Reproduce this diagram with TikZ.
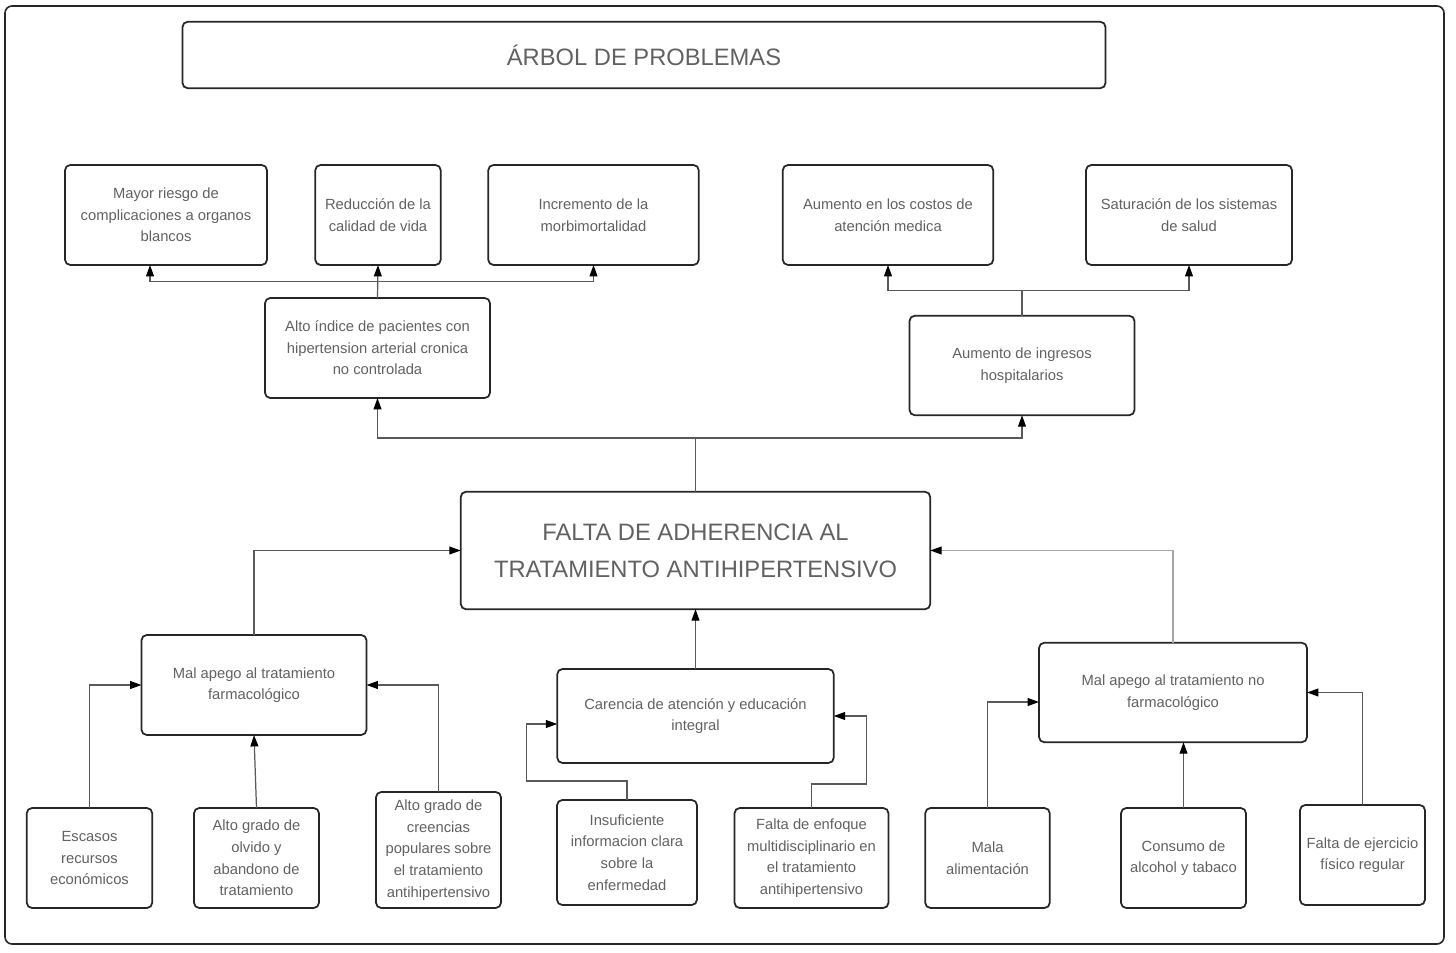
\documentclass[tikz,border=0pt]{standalone}
\usepackage{fontspec}
\setmainfont{Liberation Sans}
\usetikzlibrary{arrows.meta}

\begin{document}
\begin{tikzpicture}[
  box/.style={draw=black!85, line width=1pt, rounded corners=3pt, text=black!62, align=center, inner sep=0pt, outer sep=0pt, minimum height=2cm, font=\fontsize{8.4}{12.3}\selectfont},
  conn/.style={draw=black!65, line width=0.7pt},
  arr/.style={conn, -{Triangle[length=6.5pt,width=4.5pt,color=black]}}
]
\useasboundingbox (0cm, 0cm) rectangle (29.12cm, 19.04cm);
\draw[black!85, line width=0.9pt, rounded corners=4pt] (0.1cm, 0.16cm) rectangle (28.88cm, 18.92cm);

\node[box, minimum width=18.46cm, minimum height=1.33cm, font=\fontsize{13.5}{21}\selectfont] (title) at (12.88cm, 17.94cm) {ÁRBOL DE PROBLEMAS};

\node[box, minimum width=4.04cm] (e1) at (3.32cm, 14.74cm) {Mayor riesgo de\\complicaciones a organos\\blancos};
\node[box, minimum width=2.51cm] (e2) at (7.56cm, 14.74cm) {Reducción de la\\calidad de vida};
\node[box, minimum width=4.21cm] (e3) at (11.87cm, 14.74cm) {Incremento de la\\morbimortalidad};
\node[box, minimum width=4.21cm] (e4) at (17.76cm, 14.74cm) {Aumento en los costos de\\atención medica};
\node[box, minimum width=4.12cm] (e5) at (23.78cm, 14.74cm) {Saturación de los sistemas\\de salud};

\node[box, minimum width=4.5cm] (alto) at (7.55cm, 12.08cm) {Alto índice de pacientes con\\hipertension arterial cronica\\no controlada};
\node[box, minimum width=4.5cm, minimum height=1.99cm] (ingr) at (20.44cm, 11.73cm) {Aumento de ingresos\\hospitalarios};

\node[box, minimum width=9.39cm, minimum height=2.35cm, font=\fontsize{13.5}{21}\selectfont] (main) at (13.91cm, 8.03cm) {FALTA DE ADHERENCIA AL\\TRATAMIENTO ANTIHIPERTENSIVO};

\node[box, minimum width=4.5cm] (farm) at (5.08cm, 5.34cm) {Mal apego al tratamiento\\farmacológico};
\node[box, minimum width=5.53cm, minimum height=1.88cm] (car) at (13.91cm, 4.72cm) {Carencia de atención y educación\\integral};
\node[box, minimum width=5.36cm, minimum height=1.99cm] (nofarm) at (23.46cm, 5.19cm) {Mal apego al tratamiento no\\farmacológico};

\node[box, minimum width=2.51cm] (b1) at (1.79cm, 1.88cm) {Escasos\\recursos\\económicos};
\node[box, minimum width=2.5cm] (b2) at (5.13cm, 1.88cm) {Alto grado de\\olvido y\\abandono de\\tratamiento};
\node[box, minimum width=2.5cm, minimum height=2.32cm] (b3) at (8.77cm, 2.04cm) {Alto grado de\\creencias\\populares sobre\\el tratamiento\\antihipertensivo};
\node[box, minimum width=2.8cm, minimum height=2.1cm] (b4) at (12.54cm, 1.99cm) {Insuficiente\\informacion clara\\sobre la\\enfermedad};
\node[box, minimum width=3.08cm] (b5) at (16.23cm, 1.88cm) {Falta de enfoque\\multidisciplinario en\\el tratamiento\\antihipertensivo};
\node[box, minimum width=2.49cm] (b6) at (19.75cm, 1.88cm) {Mala\\alimentación};
\node[box, minimum width=2.5cm] (b7) at (23.67cm, 1.88cm) {Consumo de\\alcohol y tabaco};
\node[box, minimum width=2.5cm] (b8) at (27.25cm, 1.94cm) {Falta de ejercicio\\físico regular};

\coordinate (j1) at (alto.north |- 0cm, 13.41cm);
\coordinate (j2) at (ingr.north |- 0cm, 13.23cm);
\coordinate (j3) at (main.north |- 0cm, 10.28cm);

\draw[arr] (alto.north) -- (e2.south);
\draw[arr] (j1) -| ([xshift=-0.32cm]e1.south);
\draw[arr] (j1) -| (e3.south);
\draw[conn] (ingr.north) -- (j2);
\draw[arr] (j2) -| (e4.south);
\draw[arr] (j2) -| (e5.south);
\draw[conn] (main.north) -- (j3);
\draw[arr] (j3) -| (alto.south);
\draw[arr] (j3) -| (ingr.south);

\draw[arr] (farm.north) |- (main.west);
\draw[arr] (car.north) -- (main.south);
\draw[arr, draw=black!35] (nofarm.north) |- (main.east);

\draw[arr] (b1.north) |- (farm.west);
\draw[arr] (b2.north) -- (farm.south);
\draw[arr] (b3.north) |- (farm.east);
\draw[arr] (b4.north) -- ++(0cm, 0.38cm) -| ([xshift=-0.62cm, yshift=-0.16cm]car.west) -- ([yshift=-0.16cm]car.west);
\draw[arr] (b5.north) -- ++(0cm, 0.48cm) -| ([xshift=0.65cm]car.east) -- (car.east);
\draw[arr] (b6.north) |- ([yshift=-0.19cm]nofarm.west);
\draw[arr] (b7.north) -- (b7.north |- nofarm.south);
\draw[arr] (b8.north) |- (nofarm.east);
\end{tikzpicture}
\end{document}
